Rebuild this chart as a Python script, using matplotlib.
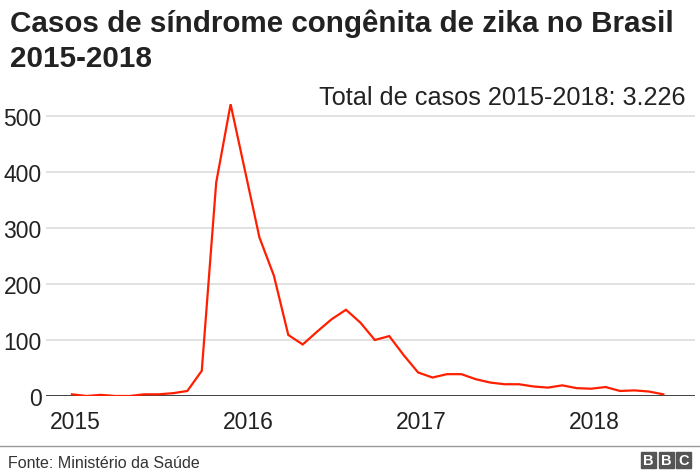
import numpy as np
import pandas as pd
import matplotlib
matplotlib.use('Agg')
import matplotlib.pyplot as plt
from matplotlib.patches import Rectangle

# Casos mensais, jan/2015 - jun/2018
meses = pd.date_range('2015-01-01', periods=42, freq='MS')
casos = [3, 0, 2, 0, 0, 3, 3, 5, 9, 45, 381, 521,
         402, 283, 215, 109, 92, 115, 137, 154, 131, 100, 107, 73,
         42, 33, 39, 39, 30, 24, 21, 21, 17, 15, 19, 14,
         13, 16, 9, 10, 8, 3]
anos = ['2015', '2016', '2017', '2018']
yticks = [0, 100, 200, 300, 400, 500]

titulo = 'Casos de síndrome congênita de zika no Brasil\n2015-2018'
total = 'Total de casos 2015-2018: 3.226'
fonte = 'Fonte: Ministério da Saúde'

plt.rcParams['font.family'] = ['Liberation Sans', 'DejaVu Sans']
txt = '#222222'

fig = plt.figure(figsize=(7, 4.77), dpi=100)
ax = fig.add_axes([46/700, 1 - 397/477, 649/700, (397 - 94.6)/477])

x = np.arange(len(casos))
ax.plot(x, casos, color='#ff1f00', lw=1.6, solid_joinstyle='miter', zorder=3)

ax.set_ylim(0, 540)
ax.set_xlim(-1.8, 43.2)
ax.set_yticks(yticks)
ax.set_yticklabels([str(v) for v in yticks], fontsize=16.5, color=txt)
jan = [i + 0.25 for i, m in enumerate(meses) if m.month == 1]
ax.set_xticks(jan)
ax.set_xticklabels(anos, fontsize=16.5, color=txt)
ax.tick_params(axis='both', length=0)
ax.tick_params(axis='y', pad=3)
ax.tick_params(axis='x', pad=10)

ax.yaxis.grid(True, color='#dcdcdc', lw=1.2, zorder=0)
ax.axhline(0, color='#333333', lw=2, zorder=2)
for s in ax.spines.values():
    s.set_visible(False)

fig.text(10/700, 1 - 9/477, titulo, ha='left', va='top', fontsize=21.3,
         fontweight='bold', color=txt, linespacing=1.36)
fig.text(686/700, 1 - 98/477, total, ha='right', va='center', fontsize=18.2,
         color=txt)

fig.add_artist(plt.Line2D([0, 1], [1 - 447/477, 1 - 447/477],
                          transform=fig.transFigure, color='#999999', lw=1))
fig.text(8/700, 1 - 464/477, fonte, ha='left', va='center', fontsize=11.5,
         color='#333333')

# logo BBC
for k, letra in enumerate('BBC'):
    x0 = 641 + k * 17.5
    fig.add_artist(Rectangle((x0/700, 1 - 469/477), 15/700, 16/477,
                             transform=fig.transFigure, color='#555555'))
    fig.text((x0 + 7.5)/700, 1 - 461/477, letra, ha='center', va='center',
             fontsize=10.5, fontweight='bold', color='white')

fig.savefig('out.png', dpi=100)
